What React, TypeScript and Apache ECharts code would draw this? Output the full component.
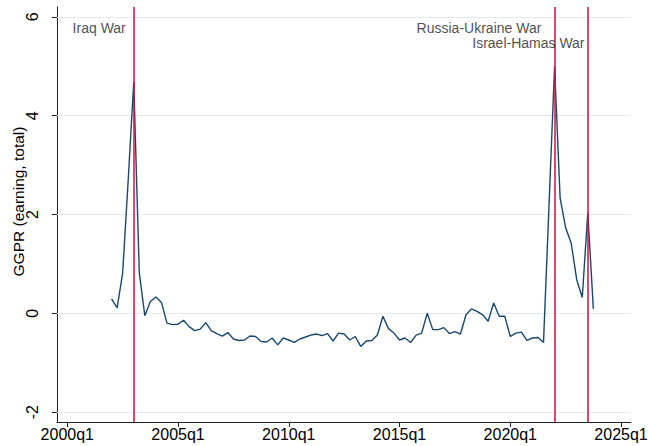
import { useEffect, useRef } from "react";
import * as echarts from "echarts";

// Quarters are counted from 2000q1 (= 0); the series starts in 2002q1.
const firstQuarter = 8;

// Geopolitical risk index (earning calls, total), 2002q1 – 2023q4
const ggpr = [
  0.29, 0.11, 0.82, 2.7, 4.68, 0.82, -0.05, 0.24,
  0.33, 0.22, -0.2, -0.23, -0.22, -0.14, -0.27, -0.35,
  -0.32, -0.19, -0.35, -0.41, -0.46, -0.39, -0.52, -0.55,
  -0.54, -0.46, -0.47, -0.57, -0.58, -0.5, -0.64, -0.5,
  -0.54, -0.59, -0.52, -0.48, -0.44, -0.42, -0.45, -0.41,
  -0.56, -0.4, -0.42, -0.54, -0.47, -0.67, -0.56, -0.55,
  -0.44, -0.06, -0.31, -0.4, -0.54, -0.5, -0.59, -0.44,
  -0.4, 0.0, -0.33, -0.33, -0.29, -0.41, -0.37, -0.42,
  -0.03, 0.09, 0.04, -0.03, -0.16, 0.21, -0.06, -0.06,
  -0.47, -0.4, -0.38, -0.55, -0.5, -0.49, -0.59, 2.2,
  5.0, 2.33, 1.73, 1.42, 0.68, 0.32, 2.04, 0.09,
];

const xTickValues = [0, 20, 40, 60, 80, 100];
const xTickLabels = ["2000q1", "2005q1", "2010q1", "2015q1", "2020q1", "2025q1"];
const yTickValues = [-2, 0, 2, 4, 6];

// War onsets (quarter index) and where their captions sit
const eventNames = ["Iraq War", "Russia-Ukraine War", "Israel-Hamas War"];
const eventQuarters = [12, 88, 94];
const eventLabelQuarters = [10.65, 85.7, 93.5];
const eventLabelLevels = [5.77, 5.77, 5.47];

const FONT = "'Liberation Sans', Arial, Helvetica, sans-serif";
const LINE_COLOR = "#1a476f";
const EVENT_COLOR = "#cc1040";
const GRID_COLOR = "#e2eaea";
const AXIS_COLOR = "#222";

export default function App() {
  const ref = useRef<HTMLDivElement>(null);

  useEffect(() => {
    if (!ref.current) return;
    const chart = echarts.init(ref.current, undefined, { renderer: "svg" });

    const lineData = ggpr.map((v, i) => [firstQuarter + i, v]);
    const labelData = eventNames.map((name, i) => ({
      name,
      value: [eventLabelQuarters[i], eventLabelLevels[i]],
    }));

    chart.setOption({
      animation: false,
      backgroundColor: "#fff",
      grid: {
        left: 57,
        right: 17,
        top: 7,
        bottom: 24,
        containLabel: false,
        outerBoundsMode: "none",
      },
      xAxis: {
        type: "value",
        min: -1.86,
        max: 101.8,
        axisLine: { show: true, onZero: false, lineStyle: { color: AXIS_COLOR, width: 1 } },
        axisTick: {
          show: true,
          customValues: xTickValues,
          length: 5,
          lineStyle: { color: AXIS_COLOR },
        },
        axisLabel: {
          customValues: xTickValues,
          formatter: (v: number) => xTickLabels[xTickValues.indexOf(v)] ?? "",
          fontFamily: FONT,
          fontSize: 16,
          color: "#000",
          margin: 4,
          hideOverlap: false,
        },
        splitLine: { show: false },
      },
      yAxis: {
        type: "value",
        min: -2.2,
        max: 6.2,
        name: "GGPR (earning, total)",
        nameLocation: "middle",
        nameRotate: 90,
        nameGap: 31,
        nameMoveOverlap: false,
        nameTextStyle: {
          fontFamily: FONT,
          fontSize: 15.5,
          color: "#000",
          padding: [0, 0, 0, 26],
        },
        axisLine: { show: true, onZero: false, lineStyle: { color: AXIS_COLOR, width: 1 } },
        axisTick: {
          show: true,
          customValues: yTickValues,
          length: 5,
          lineStyle: { color: AXIS_COLOR },
        },
        axisLabel: {
          customValues: yTickValues,
          rotate: 90,
          fontFamily: FONT,
          fontSize: 16,
          color: "#000",
          margin: 17,
        },
        splitLine: { show: false },
      },
      series: [
        {
          type: "line",
          data: lineData,
          showSymbol: false,
          symbol: "none",
          lineStyle: { color: LINE_COLOR, width: 1.4 },
          z: 3,
          markLine: {
            silent: true,
            symbol: "none",
            label: { show: false },
            lineStyle: { color: GRID_COLOR, width: 1, type: "solid" },
            data: yTickValues.map((v) => ({ yAxis: v })),
            z: 1,
          },
        },
        {
          type: "line",
          data: [],
          z: 4,
          markLine: {
            silent: true,
            symbol: "none",
            label: { show: false },
            lineStyle: { color: EVENT_COLOR, width: 1.5, type: "solid" },
            data: eventQuarters.map((q) => ({ xAxis: q })),
          },
        },
        {
          type: "scatter",
          data: labelData,
          symbolSize: 1,
          itemStyle: { color: "transparent" },
          z: 5,
          label: {
            show: true,
            position: "left",
            distance: 0,
            formatter: (p: any) => p.name,
            fontFamily: FONT,
            fontSize: 14,
            color: "#222",
          },
        },
      ],
    });

    return () => chart.dispose();
  }, []);

  return (
    <div
      ref={ref}
      style={{ position: "fixed", left: 0, top: 0, width: 648, height: 446, background: "#fff" }}
    />
  );
}
